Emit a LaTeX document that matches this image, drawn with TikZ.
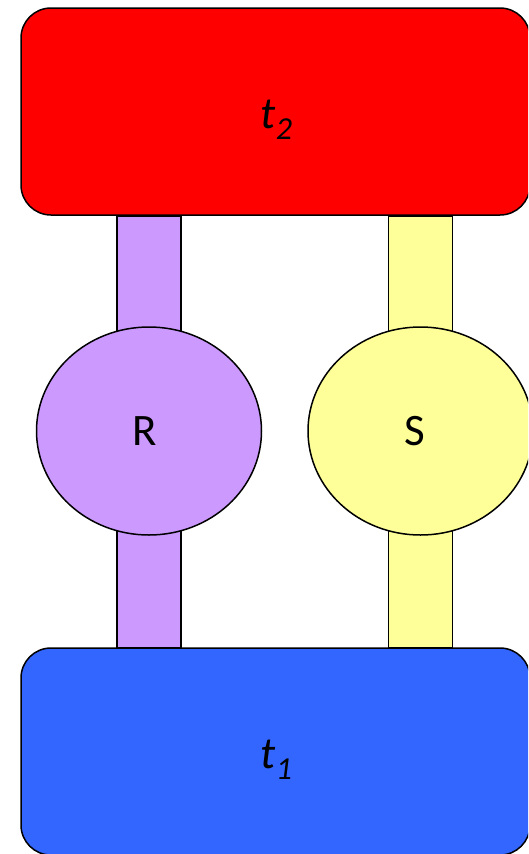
\documentclass[tikz,border=0pt]{standalone}
\usepackage{fontspec}
\setmainfont{Carlito}
\usetikzlibrary{shapes.geometric,backgrounds}
\definecolor{boxred}{HTML}{FF0000}
\definecolor{boxblue}{HTML}{3366FF}
\definecolor{lilac}{HTML}{CC99FF}
\definecolor{paleyellow}{HTML}{FFFF99}
\begin{document}
\begin{tikzpicture}[x=1pt,y=-1pt,
  every node/.style={font=\fontsize{45}{50}\selectfont},
  block/.style={draw=black,line width=1.5pt,rounded corners=30pt,minimum width=509pt,minimum height=207pt,inner sep=0pt},
  blob/.style={ellipse,draw=black,line width=1.5pt,minimum width=225pt,minimum height=208pt,inner sep=0pt},
  bar/.style={draw=black,line width=1.5pt}]
\useasboundingbox (0,0) rectangle (528,854);
\clip (0,0) rectangle (528,854);
% time slices
\node[block,fill=boxred] (t2) at (275.5,111.5) {};
\node[block,fill=boxblue] (t1) at (275.5,751.5) {};
% the two relations
\node[blob,fill=lilac] (R) at (149,431) {};
\node[blob,fill=paleyellow] (S) at (420.5,431) {};
% labels
\node at ([xshift=-4pt]R.center) {R};
\node at ([xshift=-6pt]S.center) {S};
\node at ([xshift=1pt,yshift=-8pt]t2.center) {\textit{t}\raisebox{-0.25em}{\fontsize{32}{36}\selectfont\textit{2}}};
\node at ([xshift=1pt,yshift=-8pt]t1.center) {\textit{t}\raisebox{-0.25em}{\fontsize{32}{36}\selectfont\textit{1}}};
% vertical links, behind the shapes
\begin{pgfonlayer}{background}
\draw[bar,fill=lilac] ([xshift=-32pt]R.center |- t2.south) rectangle ([xshift=32pt]R.center |- t1.north);
\draw[bar,fill=paleyellow] ([xshift=-32pt]S.center |- t2.south) rectangle ([xshift=32pt]S.center |- t1.north);
\end{pgfonlayer}
\end{tikzpicture}
\end{document}
